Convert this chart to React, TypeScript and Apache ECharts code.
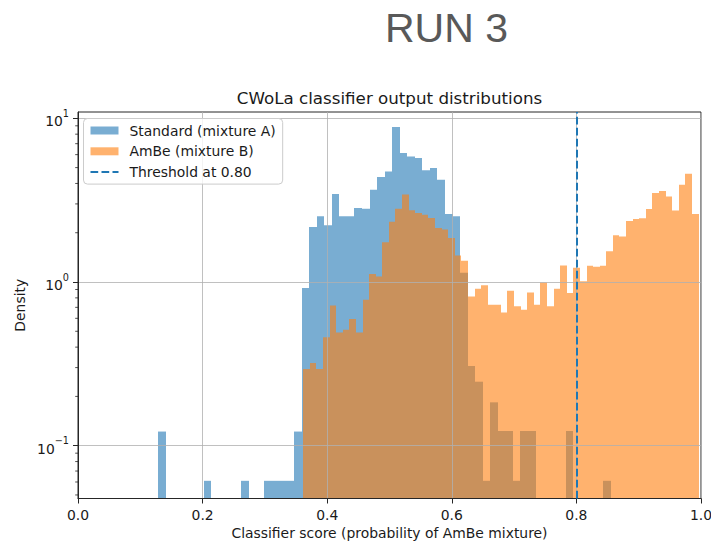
import React, { useEffect, useRef } from 'react';
import * as echarts from 'echarts';

// ---- data ----
const seriesNames = ['Standard (mixture A)', 'AmBe (mixture B)', 'Threshold at 0.80'];
const threshold = 0.8;

// histogram ranges (first bin left edge, last bin right edge)
const blueRange = [0.1289, 0.8555];
const orangeRange = [0.3616, 0.996];

// density per bin (60 bins each)
const blueDensity = [
  0.122, 0, 0, 0, 0, 0, 0.061, 0, 0, 0,
  0, 0.061, 0, 0, 0.061, 0.061, 0.061, 0.061, 0.122, 0.919,
  2.17, 2.52, 2.22, 3.45, 2.52, 2.52, 2.83, 2.8, 3.66, 4.38,
  4.74, 8.85, 6.14, 5.85, 5.72, 4.81, 4.97, 4.22, 2.6, 2.52,
  1.14, 0.307, 0.246, 0.061, 0.184, 0.123, 0.123, 0.061, 0.123, 0.123,
  0, 0, 0, 0, 0.123, 0, 0, 0, 0, 0.061,
];
const orangeDensity = [
  0.294, 0.32, 0.294, 0.459, 0.719, 0.492, 0.511, 0.594, 0.492, 0.78,
  1.12, 1.08, 1.75, 2.33, 2.8, 3.43, 2.74, 2.64, 2.58, 2.46,
  2.14, 2.09, 1.86, 1.45, 1.35, 0.815, 0.91, 0.954, 0.727, 0.727,
  0.652, 0.885, 0.71, 0.677, 0.864, 0.727, 0.994, 0.71, 0.91, 1.263,
  0.857, 1.22, 1.01, 1.258, 1.24, 1.258, 1.54, 1.93, 1.9, 2.36,
  2.43, 2.45, 2.79, 3.5, 3.6, 3.33, 2.73, 3.93, 4.59, 2.6,
];

const xTicks = [0, 0.2, 0.4, 0.6, 0.8, 1.0];
const yMajorTicks = [0.1, 1, 10];
const yMinorTicks = [
  0.05, 0.06, 0.07, 0.08, 0.09,
  0.2, 0.3, 0.4, 0.5, 0.6, 0.7, 0.8, 0.9,
  2, 3, 4, 5, 6, 7, 8, 9,
];
const yRange = [0.04757, 10.93];

const FONT = 'DejaVu Sans';
const TXT = '#1a1a1a';
const SPINE = '#262626';
const BLUE = 'rgba(31,119,180,0.6)';
const ORANGE = 'rgba(255,127,14,0.6)';
const TAB_BLUE = '#1f77b4';
const DASH = [7.7, 3.3];

function toBins(range: number[], values: number[]) {
  const w = (range[1] - range[0]) / values.length;
  return values
    .map((v, i) => [range[0] + i * w, range[0] + (i + 1) * w, v])
    .filter((d) => d[2] > 0);
}

function histRender(color: string) {
  return (params: any, api: any) => {
    const v = api.value(2);
    const a = api.coord([api.value(0), v]);
    const b = api.coord([api.value(1), v]);
    const cs = params.coordSys;
    const bottom = cs.y + cs.height;
    const x0 = Math.round(a[0]);
    const x1 = Math.round(b[0]);
    return {
      type: 'rect',
      shape: { x: x0, y: a[1], width: x1 - x0, height: bottom - a[1] },
      style: { fill: color },
    };
  };
}

export default function App() {
  const ref = useRef<HTMLDivElement>(null);
  useEffect(() => {
    if (!ref.current) return;
    const chart = echarts.init(ref.current, undefined, { renderer: 'svg' });
    const gridLeft = 78, gridTop = 112, gridW = 623, gridH = 386.5;
    const option: any = {
      animation: false,
      backgroundColor: '#ffffff',
      grid: {
        left: gridLeft, top: gridTop, width: gridW, height: gridH,
        containLabel: false, outerBoundsMode: 'none',
        show: true, borderColor: SPINE, borderWidth: 1, backgroundColor: 'transparent',
      },
      xAxis: {
        type: 'value', min: xTicks[0], max: xTicks[xTicks.length - 1], interval: 0.2,
        z: 3,
        axisLine: { show: true, onZero: false, lineStyle: { color: SPINE, width: 1 } },
        axisTick: { show: true, length: 5, lineStyle: { color: SPINE, width: 1 } },
        axisLabel: {
          margin: 9, fontFamily: FONT, fontSize: 13.9, color: TXT,
          formatter: (v: number) => v.toFixed(1),
        },
        splitLine: { show: true, lineStyle: { color: '#b0b0b0', width: 0.8 } },
      },
      yAxis: {
        type: 'log', logBase: 10, min: yRange[0], max: yRange[1],
        z: 3,
        axisLine: { show: true, onZero: false, lineStyle: { color: SPINE, width: 1 } },
        axisTick: { show: true, length: 5, customValues: yMajorTicks, lineStyle: { color: SPINE, width: 1 } },
        axisLabel: {
          customValues: yMajorTicks,
          margin: 9, color: TXT,
          formatter: (v: number) => {
            const e = Math.round(Math.log10(v));
            if (Math.abs(Math.log10(v) - e) > 1e-6) return '';
            return '{n|10}{e|' + String(e).replace('-', '\u2212') + '}';
          },
          rich: {
            n: { fontFamily: FONT, fontSize: 13.9, color: TXT, lineHeight: 20, verticalAlign: 'bottom', padding: [4, 0, 0, 0] },
            e: { fontFamily: FONT, fontSize: 9.7, color: TXT, lineHeight: 10, verticalAlign: 'top' },
          },
        },
        splitLine: { show: true, lineStyle: { color: '#b0b0b0', width: 0.8 } },
      },
      legend: {
        orient: 'vertical', left: 83.5, top: 118.5, z: 10,
        backgroundColor: 'rgba(255,255,255,0.8)', borderColor: '#cccccc', borderWidth: 1, borderRadius: 4,
        padding: [5, 7, 5, 6], itemGap: 6.8, itemWidth: 28, itemHeight: 8,
        textStyle: { fontFamily: FONT, fontSize: 13.9, color: TXT, padding: [0, 0, 0, 6] },
        data: [
          { name: seriesNames[0], icon: 'rect' },
          { name: seriesNames[1], icon: 'rect' },
          { name: seriesNames[2], itemStyle: { opacity: 0 } },
        ],
      },
      series: [
        {
          type: 'custom', name: seriesNames[0], z: 2,
          renderItem: histRender(BLUE), itemStyle: { color: BLUE },
          encode: { x: [0, 1], y: 2 }, data: toBins(blueRange, blueDensity),
        },
        {
          type: 'custom', name: seriesNames[1], z: 2,
          renderItem: histRender(ORANGE), itemStyle: { color: ORANGE },
          encode: { x: [0, 1], y: 2 }, data: toBins(orangeRange, orangeDensity),
        },
        {
          type: 'line', name: seriesNames[2], z: 4, data: [], symbol: 'none',
          itemStyle: { color: TAB_BLUE },
          lineStyle: { color: TAB_BLUE, width: 2, type: DASH },
          markLine: {
            silent: true, symbol: ['none', 'none'], label: { show: false },
            lineStyle: { color: TAB_BLUE, width: 2, type: DASH },
            data: [{ xAxis: threshold }],
          },
        },
        {
          type: 'custom', name: 'minorTicks', silent: true, z: 5, clip: false,
          encode: { x: 0, y: 1 },
          data: yMinorTicks.map((v) => [xTicks[0], v]),
          renderItem: (params: any, api: any) => {
            const p = api.coord([api.value(0), api.value(1)]);
            return {
              type: 'line',
              shape: { x1: p[0] - 2.8, y1: p[1], x2: p[0], y2: p[1] },
              style: { stroke: SPINE, lineWidth: 0.8 },
            };
          },
        },
      ],
      graphic: [
        {
          type: 'text', x: 446.5, y: 28,
          style: { text: 'RUN 3', fontFamily: 'Liberation Sans', fontSize: 41, fill: '#595959', align: 'center', verticalAlign: 'middle' },
        },
        {
          type: 'text', x: gridLeft + gridW / 2, y: 97.5,
          style: { text: 'CWoLa classifier output distributions', fontFamily: FONT, fontSize: 16.7, fill: TXT, align: 'center', verticalAlign: 'middle' },
        },
        {
          type: 'text', x: 20, y: gridTop + gridH / 2, rotation: Math.PI / 2,
          style: { text: 'Density', fontFamily: FONT, fontSize: 13.9, fill: TXT, align: 'center', verticalAlign: 'middle' },
        },
        {
          type: 'text', x: gridLeft + gridW / 2, y: 532.5,
          style: { text: 'Classifier score (probability of AmBe mixture)', fontFamily: FONT, fontSize: 13.9, fill: TXT, align: 'center', verticalAlign: 'middle' },
        },
      ],
    };
    chart.setOption(option);
    return () => chart.dispose();
  }, []);
  return (
    <div
      ref={ref}
      style={{ position: 'absolute', left: 0, top: 0, width: 711, height: 541, background: '#fff' }}
    />
  );
}
